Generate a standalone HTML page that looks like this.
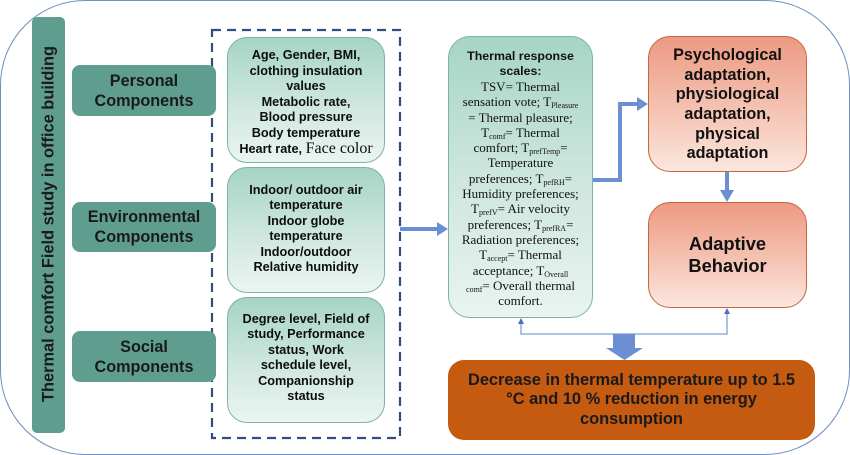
<!DOCTYPE html>
<html>
<head>
<meta charset="utf-8">
<style>
  html,body{margin:0;padding:0;background:#fff;}
  body{width:850px;height:455px;position:relative;overflow:hidden;font-family:"Liberation Sans",Arial,sans-serif;}
  .abs{position:absolute;box-sizing:border-box;}
  .frame{left:0;top:0;width:850px;height:455px;border:1.5px solid #7090c0;border-radius:85px;}
  .vbar{left:32px;top:17px;width:33px;height:416px;background:#5f9e8f;border-radius:5px;}
  .vtext{position:absolute;left:48.5px;top:224px;transform:translate(-50%,-50%) rotate(-90deg);white-space:nowrap;font-weight:bold;font-size:16.4px;color:#1a1a1a;}
  .lab{background:#5f9e8f;border-radius:8px;display:flex;align-items:center;justify-content:center;text-align:center;font-weight:bold;font-size:16.2px;line-height:20px;color:#1a1a1a;left:72px;width:144px;}
  .cb{left:227px;width:158px;border:1px solid #7db3a4;border-radius:20px;background:linear-gradient(180deg,#a6d4c6 0%,#cfe7df 55%,#eaf5f1 100%);display:flex;align-items:center;justify-content:center;text-align:center;font-weight:bold;font-size:12.7px;line-height:15.5px;color:#0d0d0d;white-space:nowrap;}
  .serif{font-family:"Liberation Serif","Times New Roman",serif;font-weight:normal;}
  .th{left:448px;top:36px;width:145px;height:282px;border:1px solid #7db3a4;border-radius:22px;background:linear-gradient(180deg,#a6d4c6 0%,#cde6de 50%,#e9f4f0 100%);text-align:center;color:#111;white-space:nowrap;padding-top:12px;}
  .th .hd{font-weight:bold;font-size:12.4px;line-height:15px;}
  .th .bd{font-family:"Liberation Serif","Times New Roman",serif;font-size:13px;line-height:15.3px;}
  .th sub{font-size:8px;vertical-align:-2px;line-height:0;}
  .ps{left:648px;width:159px;border:1px solid #c4673f;border-radius:22px;background:linear-gradient(180deg,#ec9a82 0%,#f5c3b3 55%,#fbe6de 100%);display:flex;align-items:center;justify-content:center;text-align:center;font-weight:bold;color:#111;white-space:nowrap;}
  .bot{left:448px;top:360px;width:367px;height:80px;background:#c55a11;border-radius:16px;display:flex;align-items:center;justify-content:center;text-align:center;font-weight:bold;font-size:16.4px;line-height:19.6px;color:#1a1a1a;white-space:nowrap;}
  svg{position:absolute;left:0;top:0;}
</style>
</head>
<body>
<div class="abs frame"></div>

<svg width="850" height="455" viewBox="0 0 850 455">
  <rect x="212" y="30" width="188" height="408" fill="none" stroke="#2f4f80" stroke-width="2.2" stroke-dasharray="9 6"/>
</svg>

<div class="abs vbar"></div>
<div class="vtext">Thermal comfort Field study in office building</div>

<div class="abs lab" style="top:65px;height:51px;">Personal<br>Components</div>
<div class="abs lab" style="top:202px;height:50px;">Environmental<br>Components</div>
<div class="abs lab" style="top:331px;height:51px;">Social<br>Components</div>

<div class="abs cb" style="top:37px;height:126px;padding-top:6px;">
  <div>Age, Gender, BMI,<br>clothing insulation<br>values<br>Metabolic rate,<br>Blood pressure<br>Body temperature<br>Heart rate, <span class="serif" style="font-size:16px;">Face color</span></div>
</div>
<div class="abs cb" style="top:167px;height:126px;padding-bottom:2px;">
  <div>Indoor/ outdoor air<br>temperature<br>Indoor globe<br>temperature<br>Indoor/outdoor<br>Relative humidity</div>
</div>
<div class="abs cb" style="top:297px;height:126px;padding-bottom:4px;">
  <div>Degree level, Field of<br>study, Performance<br>status, Work<br>schedule level,<br>Companionship<br>status</div>
</div>

<div class="abs th">
  <div class="hd">Thermal response<br>scales:</div>
  <div class="bd">TSV= Thermal<br>sensation vote; T<sub>Pleasure</sub><br>= Thermal pleasure;<br>T<sub>comf</sub>= Thermal<br>comfort; T<sub>prefTemp</sub>=<br>Temperature<br>preferences; T<sub>pefRH</sub>=<br>Humidity preferences;<br>T<sub>prefV</sub>= Air velocity<br>preferences; T<sub>prefRA</sub>=<br>Radiation preferences;<br>T<sub>accept</sub>= Thermal<br>acceptance; T<sub>Overall</sub><br><sub>comf</sub>= Overall thermal<br>comfort.</div>
</div>

<div class="abs ps" style="top:36px;height:136px;font-size:16.2px;line-height:19.6px;padding-top:2px;">
  <div>Psychological<br>adaptation,<br>physiological<br>adaptation,<br>physical<br>adaptation</div>
</div>
<div class="abs ps" style="top:202px;height:106px;font-size:18.3px;line-height:22px;">
  <div>Adaptive<br>Behavior</div>
</div>

<div class="abs bot"><div>Decrease in thermal temperature up to 1.5<br>°C and 10 % reduction in energy<br>consumption</div></div>

<svg width="850" height="455" viewBox="0 0 850 455">
  <line x1="400" y1="229" x2="438" y2="229" stroke="#6b8fd2" stroke-width="4"/>
  <polygon points="437,222 448,229 437,236" fill="#6b8fd2"/>
  <polyline points="593,180 620,180 620,104 638,104" fill="none" stroke="#6b8fd2" stroke-width="4"/>
  <polygon points="637,97 648,104 637,111" fill="#6b8fd2"/>
  <line x1="727" y1="172" x2="727" y2="191" stroke="#6b8fd2" stroke-width="4"/>
  <polygon points="720,190 727,202 734,190" fill="#6b8fd2"/>
  <polyline points="521,323 521,334 727,334 727,313" fill="none" stroke="#7f9fd2" stroke-width="1.3"/>
  <polygon points="518,324 521,318 524,324" fill="#4a70c0"/>
  <polygon points="724,314 727,308 730,314" fill="#4a70c0"/>
  <rect x="613" y="334" width="22" height="15" fill="#6b8fd2"/>
  <polygon points="606,348 643,348 624.5,360" fill="#6b8fd2"/>
</svg>
</body>
</html>
